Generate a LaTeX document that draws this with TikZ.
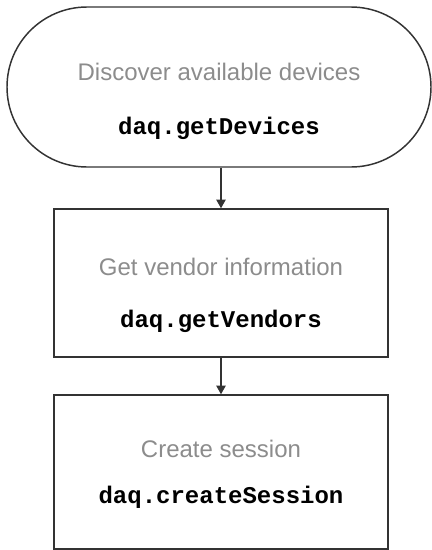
\documentclass[tikz,border=0pt]{standalone}
\usepackage{fontspec}
\setmainfont{Liberation Sans}
\setmonofont{Liberation Mono}
\usepackage{tikz}
\usetikzlibrary{calc}
\usetikzlibrary{arrows.meta,shapes.misc}
\usetikzlibrary{positioning}
\definecolor{edgegray}{RGB}{51,51,51}
\definecolor{txtgray}{RGB}{140,140,140}
\tikzstyle{hit}=[draw=edgegray,line width=1.1pt,-{Triangle[length=6.5pt,width=7pt]}]
\tikzstyle{term}=[rounded rectangle,draw=edgegray,line width=1.1pt,
                  minimum width=318pt,minimum height=120pt,inner sep=0]
\tikzstyle{stepbox}=[rectangle,draw=edgegray,line width=1.1pt,
                  minimum width=250.5pt,inner sep=0]
\tikzstyle{info}=[anchor=base,text=txtgray,font=\fontsize{18pt}{20pt}\selectfont,inner sep=0]
\tikzstyle{call}=[anchor=base,font=\fontsize{18pt}{20pt}\selectfont\ttfamily\bfseries,inner sep=0]

\begin{document}
\begin{tikzpicture}[x=1pt,y=1pt]
\useasboundingbox (0,0) rectangle (324,-412.5);
\node[term] (dev) at (164.25,-65.25) {};
\node[info] (devtxt) at (164.25,-60) {Discover available devices};
\node[call] (devcall) at (164.25,-100.5) {daq.getDevices};
\node[stepbox,minimum height=111pt] (vend) at (165.75,-212.25) {};
\node[info] (vendtxt) at (165.75,-206.25) {Get vendor information};
\node[call] (vendcall) at (165.75,-245.25) {daq.getVendors};
\node[stepbox,minimum height=115.5pt] (sess) at (165.75,-354) {};
\node[info] (sesstxt) at (165.75,-342.75) {Create session};
\node[call] (sesscall) at (165.75,-377.25) {daq.createSession};
\draw[hit] (dev.south -| vend.north) -- (vend.north);
\draw[hit] (vend.south) -- (sess.north);
\end{tikzpicture}
\end{document}
